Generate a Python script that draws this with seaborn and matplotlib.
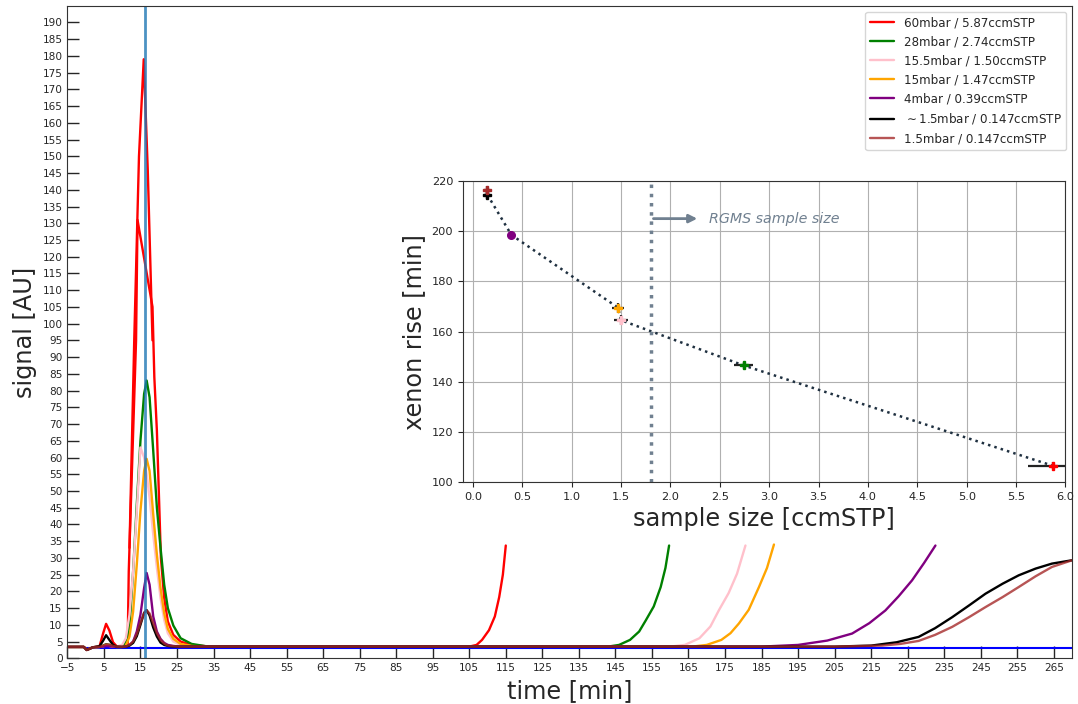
import numpy as np
import pandas as pd
import matplotlib
matplotlib.use("Agg")
import matplotlib.pyplot as plt
import seaborn as sns

# ---------------- data ----------------
labels = ["60mbar / 5.87ccmSTP", "28mbar / 2.74ccmSTP", "15.5mbar / 1.50ccmSTP",
          "15mbar / 1.47ccmSTP", "4mbar / 0.39ccmSTP", r"$\sim$1.5mbar / 0.147ccmSTP",
          "1.5mbar / 0.147ccmSTP"]
colors = ["red", "green", "pink", "orange", "purple", "black", "brown"]

# common time grid for the early (peak) part
t_peak = [-5, -0.5, 0.3, 2, 3.8, 4.8, 5.6, 6.5, 7.5, 8.5, 10, 11, 12, 13, 14, 15, 16, 16.7,
          17.5, 18.5, 19.5, 20.5, 21.5, 22.5, 24, 26, 29, 33, 40]
green_peak = [3.4, 3.4, 2.5, 3.3, 3.4, 3.8, 4.2, 4.0, 3.6, 3.4, 3.4, 5, 9.5, 26, 46, 65, 79, 83,
              78, 62, 45, 33, 22, 15, 9.8, 6, 4.3, 3.6, 3.5]
pink_peak = [3.4, 3.4, 2.5, 3.3, 3.4, 3.6, 3.9, 3.7, 3.5, 3.5, 4, 6, 13, 26, 44, 63, 60, 55,
             48, 37, 27, 18, 11.5, 7.5, 5, 4, 3.6, 3.5, 3.5]
orange_peak = [3.4, 3.4, 2.5, 3.3, 3.4, 3.6, 3.9, 3.7, 3.5, 3.4, 3.4, 3.8, 6.5, 14, 28, 44, 56,
               59.6, 56, 43, 31, 21, 13.5, 8.8, 5.8, 4.3, 3.7, 3.5, 3.5]
purple_peak = [3.4, 3.4, 2.5, 3.3, 3.4, 3.5, 3.7, 3.6, 3.5, 3.4, 3.4, 3.5, 4.0, 5.0, 8.0, 13, 21,
               25.5, 22, 12.5, 8, 5.8, 4.6, 4.0, 3.7, 3.5, 3.5, 3.5, 3.5]
black_peak = [3.4, 3.4, 2.5, 3.3, 3.6, 5.3, 6.9, 5.5, 4.0, 3.5, 3.4, 3.5, 3.8, 4.6, 6.6, 10, 13.6,
              14.4, 12.8, 9.2, 6.5, 4.7, 4.0, 3.7, 3.5, 3.5, 3.5, 3.5, 3.5]
brown_peak = [3.4, 3.4, 2.5, 3.3, 3.4, 3.8, 4.2, 4.1, 3.7, 3.5, 3.4, 3.5, 4.0, 5.0, 7.2, 10.5, 13.5,
              14.3, 13.4, 10.5, 7.5, 5.5, 4.4, 3.8, 3.6, 3.5, 3.5, 3.5, 3.5]

# 60 mbar: saturated signal (own time points)
red_peak_t = [-5, -0.5, 0.3, 2, 3.8, 4.8, 5.6, 6.5, 7.5, 8.5, 10, 11.5, 11.8, 12.0, 13.8, 14.2,
              18.3, 18.8, 19.5, 20.6, 21.5, 22.5, 24, 26, 29, 33, 40]
red_peak_y = [3.4, 3.4, 2.5, 3.3, 3.6, 7.5, 10.3, 8.3, 4.8, 3.6, 3.4, 3.8, 26, 33, 95, 131,
              105, 84, 68, 30, 18, 11, 7, 5, 4, 3.6, 3.5]
red_spike_t = [12.0, 13.3, 14.6, 15.9, 17.0, 18.3]
red_spike_y = [33, 95, 150, 179, 146, 95]

# late xenon rise
red_rise_t = [105, 107, 108.5, 110.4, 112, 113.2, 114.2, 115]
red_rise_y = [3.5, 4, 5.5, 8.4, 12.5, 18.3, 25, 33.7]
green_rise_t = [143, 146, 149, 151.5, 153.3, 155.5, 157.4, 158.7, 159.7]
green_rise_y = [3.5, 4, 5.5, 8, 11.3, 15.5, 21.3, 27, 33.7]
pink_rise_t = [160, 164, 168, 171, 173.3, 176, 178.3, 180.6]
pink_rise_y = [3.5, 4, 6, 9.5, 14.3, 19.5, 25.3, 33.7]
orange_rise_t = [166, 170, 174, 176.5, 178.8, 181.5, 184.3, 186.5, 188.4]
orange_rise_y = [3.5, 4, 5.5, 7.5, 10.4, 14.5, 21.3, 27, 34]
purple_rise_t = [185, 195, 203, 209.8, 214.5, 218.9, 222.5, 226.2, 229.5, 232.6]
purple_rise_y = [3.5, 4, 5.3, 7.4, 10.5, 14.3, 18.5, 23.3, 28.5, 33.7]
black_rise_t = [205, 215, 222, 228, 232.5, 237.2, 241.8, 246.3, 251, 255.4, 260, 264.5, 270]
black_rise_y = [3.5, 3.8, 4.8, 6.4, 9, 12.3, 15.8, 19.3, 22.3, 24.8, 26.8, 28.3, 29.3]
brown_rise_t = [205, 218, 223, 228, 232.5, 237.2, 241.8, 246.3, 251, 255.4, 260, 264.5, 270]
brown_rise_y = [3.5, 3.8, 4.3, 5.2, 7, 9.4, 12.3, 15.3, 18.3, 21.3, 24.5, 27.3, 29.3]

peak_time = 16.3
baseline_x = [0, 270]
baseline_y = [3.2, 3.2]

# inset: sample size vs xenon rise
sample_size = [5.87, 2.74, 1.50, 1.47, 0.39, 0.147, 0.147]
xenon_rise = [106.5, 146.5, 164.5, 169.5, 198.5, 214.5, 216.5]
size_err = [0.25, 0.1, 0.07, 0.06, 0.03, 0.03, 0.03]
rise_err = [1.5, 1.5, 2.0, 2.0, 1.5, 1.5, 1.5]
inset_colors = ["red", "green", "pink", "orange", "purple", "black", "brown"]
trend_x = [0.147, 0.39, 1.47, 1.50, 2.74, 5.87]
trend_y = [214.5, 198.5, 169.5, 164.5, 146.5, 106.5]
rgms_size = 1.8

# ---------------- figure ----------------
sns.set_style("ticks", {"xtick.direction": "in", "ytick.direction": "in"})
plt.rcParams["font.family"] = ["DejaVu Sans"]

fig = plt.figure(figsize=(10.78, 7.04), dpi=100)
ax = fig.add_axes([0.0625, 0.0649, 0.932, 0.927])

series = [
    (t_peak, None, red_rise_t, red_rise_y),
    (t_peak, green_peak, green_rise_t, green_rise_y),
    (t_peak, pink_peak, pink_rise_t, pink_rise_y),
    (t_peak, orange_peak, orange_rise_t, orange_rise_y),
    (t_peak, purple_peak, purple_rise_t, purple_rise_y),
    (t_peak, black_peak, black_rise_t, black_rise_y),
    (t_peak, brown_peak, brown_rise_t, brown_rise_y),
]

sns.lineplot(x=baseline_x, y=baseline_y, color="blue", lw=1.5, ax=ax, legend=False)

for i, (tp, yp, tr, yr) in enumerate(series):
    if yp is None:
        tp, yp = red_peak_t, red_peak_y
    xs = list(tp) + list(tr)
    ys = list(yp) + list(yr)
    alpha = 0.8 if colors[i] == "brown" else 1.0
    sns.lineplot(x=xs, y=ys, color=colors[i], lw=1.7, label=labels[i], ax=ax,
                 sort=False, estimator=None, alpha=alpha)
    if i == 0:
        sns.lineplot(x=red_spike_t, y=red_spike_y, color="red", lw=1.7, ax=ax,
                     sort=False, estimator=None, legend=False)

ax.axvline(peak_time, color="tab:blue", lw=2, alpha=0.8)

ax.set_xlim(-5, 270)
ax.set_ylim(0, 195)
ax.set_xticks(np.arange(-5, 270, 10))
ax.set_yticks(np.arange(0, 191, 5))
ax.tick_params(axis="both", direction="in", length=8.5, width=1, labelsize=7.6)
for s in ax.spines.values():
    s.set_visible(True)
    s.set_color("#333333")
ax.set_xlabel("time [min]", fontsize=17.3)
ax.set_ylabel("signal [AU]", fontsize=17.3)
leg = ax.legend(loc="upper right", fontsize=8.6, frameon=True)

# ---------------- inset ----------------
ins = fig.add_axes([0.4295, 0.3153, 0.5589, 0.4276])
ins.grid(True, color="#b0b0b0", lw=0.8)
ins.set_axisbelow(True)
sns.lineplot(x=trend_x, y=trend_y, color="#1f3040", lw=1.8, ls=":", ax=ins,
             sort=False, estimator=None, legend=False)
ins.axvline(rgms_size, color="slategray", lw=2.5, ls=":")
ins.annotate("", xy=(rgms_size + 0.5, 205), xytext=(rgms_size, 205),
             arrowprops=dict(arrowstyle="-|>", color="slategray", lw=2, mutation_scale=12))
ins.text(rgms_size + 0.59, 205, "RGMS sample size", color="slategray", style="italic",
         fontsize=10.3, va="center", ha="left")
for x, y, xe, ye, c in zip(sample_size, xenon_rise, size_err, rise_err, inset_colors):
    mk = "o" if c == "purple" else "P"
    ins.errorbar(x, y, xerr=xe, yerr=ye, fmt=mk, color=c, mec=c, ms=5.5, ecolor="#222222",
                 elinewidth=1.6, capsize=0, zorder=3)
ins.set_xlim(-0.1, 6.0)
ins.set_ylim(100, 220)
ins.set_xticks(np.arange(0, 6.01, 0.5))
ins.set_xticklabels([f"{v:.1f}" for v in np.arange(0, 6.01, 0.5)])
ins.set_yticks(np.arange(100, 221, 20))
ins.tick_params(axis="both", direction="out", length=3.5, labelsize=8.2)
for s in ins.spines.values():
    s.set_color("#333333")
ins.set_xlabel("sample size [ccmSTP]", fontsize=17.3, labelpad=4)
ins.set_ylabel("xenon rise [min]", fontsize=17.3)

fig.savefig("out.png", dpi=100)
